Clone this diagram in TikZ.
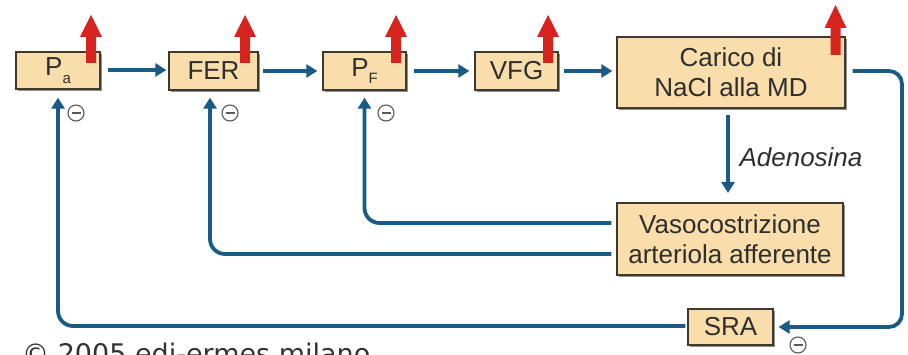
\documentclass[tikz,border=0pt]{standalone}
\usepackage{fontspec}
\setmainfont{Liberation Sans}
\newfontfamily\dejavu{DejaVu Sans}
\usetikzlibrary{arrows.meta,shadows}
\definecolor{boxfill}{HTML}{F9DEAB}
\definecolor{boxdraw}{HTML}{3E3A2E}
\definecolor{flowblue}{HTML}{1A5A87}
\definecolor{upred}{HTML}{D6231E}
\definecolor{txt}{HTML}{2E2E2E}
\newcommand{\subtxt}[1]{\raisebox{-0.28em}{\fontsize{15}{15}\selectfont #1}}
\newcommand{\redup}[4]{% x, tip y, head bottom y, shaft bottom y
  \fill[upred] (#1-5,#4) -- (#1-5,#3) -- (#1-11,#3) -- (#1,#2) -- (#1+11,#3) -- (#1+5,#3) -- (#1+5,#4) -- cycle;}
\begin{document}
\begin{tikzpicture}[x=1pt,y=-1pt,
  box/.style={draw=boxdraw, line width=1.3pt, fill=boxfill, inner sep=0pt,
    text=txt, align=center, font=\fontsize{26}{30}\selectfont,
    drop shadow={shadow xshift=1.6pt, shadow yshift=-1.6pt, fill=black!55, opacity=0.8}},
  flow/.style={draw=flowblue, line width=3.8pt, -{Triangle[length=11pt,width=13pt]}},
  flowline/.style={draw=flowblue, line width=3.8pt},
  minus/.style={circle, draw=black!65, line width=1.1pt, fill=white, minimum size=16pt, inner sep=0pt,
    path picture={\draw[black!65, line width=2pt] ([xshift=-4.5pt]path picture bounding box.center) -- ([xshift=4.5pt]path picture bounding box.center);}}
  ]
\useasboundingbox (0,0) rectangle (908,355);
\clip (0,0) rectangle (908,355);

% boxes
\node[box, minimum width=84pt, minimum height=37pt] (Pa) at (58,70.5) {P\subtxt{a}};
\node[box, minimum width=89pt, minimum height=38pt] (FER) at (213.5,71) {FER};
\node[box, minimum width=83pt, minimum height=38pt] (PF) at (364.5,71) {P\subtxt{F}};
\node[box, minimum width=83pt, minimum height=38pt] (VFG) at (516.5,71) {VFG};
\node[box, minimum width=228pt, minimum height=71pt] (MD) at (731,72.5) {Carico di\\NaCl alla MD};
\node[box, minimum width=226pt, minimum height=72pt] (VA) at (730,239) {Vasocostrizione\\arteriola afferente};
\node[box, minimum width=85pt, minimum height=36pt] (SRA) at (730.5,327) {SRA};

% red arrows
\redup{91}{15}{37}{63}
\redup{245}{15}{37}{63}
\redup{396}{15}{37}{63}
\redup{548}{15}{37}{63}
\redup{835.5}{5}{28}{55}

% forward flow
\draw[flow, shorten <=7pt, shorten >=2pt] ([yshift=0.5pt]Pa.east) -- ([yshift=0.5pt]Pa.east -| FER.west);
\draw[flow, shorten <=4pt, shorten >=5pt] (FER.east) -- (PF.west);
\draw[flow, shorten <=7pt, shorten >=5pt] (PF.east) -- (VFG.west);
\draw[flow, shorten <=5pt, shorten >=4pt] (VFG.east) -- (VFG.east -| MD.west);
\draw[flow, shorten <=7pt, shorten >=10pt] (VFG.east -| 728,0) coordinate (adtop) (728,108) -- (728,203) coordinate (adbot);
\node[anchor=west, text=txt, font=\fontsize{26}{30}\selectfont\itshape] (ad) at (736,157) {Adenosina};

% right loop to SRA
\coordinate (rc) at (902,0);
\draw[flow, rounded corners=13pt, shorten <=7pt, shorten >=5pt] (MD.east |- VFG.east) -| (rc |- SRA.east) -- (SRA.east);

% feedback
\draw[flow, rounded corners=15pt, shorten <=2pt, shorten >=8pt] ([yshift=1pt]SRA.west) -| (Pa.south);
\draw[flow, rounded corners=15pt, shorten <=5pt, shorten >=7pt] ([yshift=-15pt]VA.west) -| ([xshift=-3.5pt]FER.south);
\draw[flow, rounded corners=15pt, shorten <=5pt, shorten >=7pt] ([yshift=16pt]VA.west) -| (PF.south);

% inhibition marks
\node[minus] (m1) at (76,113) {};
\node[minus] (m2) at (230,113) {};
\node[minus] (m3) at (386,113) {};
\node[minus] (m4) at (798,345) {};

% copyright
\node[anchor=base west, inner sep=0pt, text=black!80, font=\dejavu\fontsize{27}{30}\selectfont] (copy) at (22,363) {© 2005 edi-ermes milano};
\end{tikzpicture}
\end{document}
